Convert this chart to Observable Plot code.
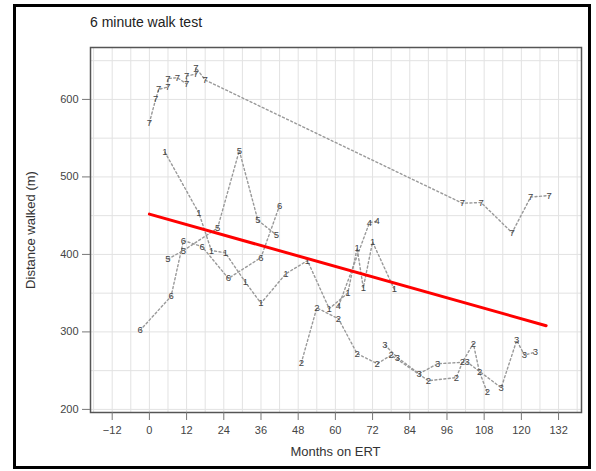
<!DOCTYPE html>
<html>
<head>
<meta charset="utf-8">
<script src="https://cdn.jsdelivr.net/npm/d3@7"></script>
<script src="https://cdn.jsdelivr.net/npm/@observablehq/plot@0.6"></script>
<style>
  body { margin: 0; background: #fff; }
  #wrap { position: relative; width: 596px; height: 471px; font-family: "Liberation Sans", Arial, sans-serif; overflow: hidden; }
  #chart { position: absolute; left: 0; top: 0; }
  #border { position: absolute; left: 13px; top: 4px; width: 572px; height: 459px; border: 3px solid #000; pointer-events: none; }
  #title { position: absolute; left: 90px; top: 14px; font-size: 14px; color: #222; }
  #xlabel { position: absolute; left: 90px; width: 491px; top: 444px; text-align: center; font-size: 13px; color: #333; }
  #ylabel { position: absolute; left: 30px; top: 230px; transform: translate(-50%, -50%) rotate(-90deg); white-space: nowrap; font-size: 13px; color: #333; }
</style>
</head>
<body>
<div id="wrap">
  <div id="chart"></div>
  <div id="border"></div>
  <div id="title">6 minute walk test</div>
  <div id="xlabel">Months on ERT</div>
  <div id="ylabel">Distance walked (m)</div>
</div>
<script>
// Patient id for each observation
const patientId = [
  1,1,1,1,1,1,1,1,1,1,1,1,1,1,
  2,2,2,2,2,2,2,2,2,2,2,2,
  3,3,3,3,3,3,3,3,3,
  4,4,4,
  5,5,5,5,5,5,
  6,6,6,6,6,6,6,
  7,7,7,7,7,7,7,7,7,7,7,7,7,7,7,7
];
// Months on ERT for each observation
const monthOnErt = [
  5,16,20,24.5,31,36,44,51,58,64,67,69,72,79,
  49,54,61,67,73.5,78,90,99,101,104.5,106.5,109,
  76,80,87,93,102.5,113.5,118.5,121,124.5,
  61,71,73.5,
  6,11,22,29,35,41,
  -3,7,11,17,25.5,36,42,
  0,2,3,6,6,9,12,12,15,15,18,101,107,117,123,129
];
// Distance walked (m) for each observation
const distanceWalked = [
  532,453,405,402,364,337,375,392,330,350,408,357,416,355,
  260,331,317,272,259,270,237,241,261,285,248,222,
  283,267,246,259,261,228,289,270,274,
  333,441,443,
  394,405,434,534,444,425,
  302,346,418,410,369,396,463,
  570,600,613,616,627,628,620,630,633,641,625,466,467,428,474,476
];
// Linear trend line end points
const fitMonth = [0, 128];
const fitDistance = [452, 308];
// Tick labels
const xTicks = [-12, 0, 12, 24, 36, 48, 60, 72, 84, 96, 108, 120, 132];
const yTicks = [200, 300, 400, 500, 600];
const xGrid = d3.range(-18, 140, 6);
const yGrid = d3.range(200, 667, 50);

const obs = patientId.map((p, i) => ({patient: p, month: monthOnErt[i], dist: distanceWalked[i]}));
const fit = fitMonth.map((m, i) => ({month: m, dist: fitDistance[i]}));

const chart = Plot.plot({
  width: 596,
  height: 471,
  marginLeft: 90,
  marginRight: 15,
  marginTop: 47,
  marginBottom: 59,
  style: {fontFamily: "'Liberation Sans', Arial, sans-serif", fontSize: "11px", color: "#444", background: "#fff"},
  x: {domain: [-19, 139.4]},
  y: {domain: [196, 667]},
  marks: [
    Plot.ruleX(xGrid, {stroke: "#e2e2e2", strokeWidth: 1}),
    Plot.ruleY(yGrid, {stroke: "#e2e2e2", strokeWidth: 1}),
    Plot.frame({stroke: "#555", strokeWidth: 1.5}),
    Plot.axisX({ticks: xTicks, tickSize: 8, tickPadding: 6, label: null, stroke: "#777", fontSize: 11, fill: "#444"}),
    Plot.axisY({ticks: yTicks, tickSize: 8, tickPadding: 4, label: null, stroke: "#777", fontSize: 11, fill: "#444"}),
    Plot.line(obs, {x: "month", y: "dist", z: "patient", stroke: "#999", strokeWidth: 1.4, strokeDasharray: "2,2.5"}),
    Plot.text(obs, {x: "month", y: "dist", text: d => String(d.patient), fontSize: 9.5, fill: "#444"}),
    Plot.line(fit, {x: "month", y: "dist", stroke: "#ff0000", strokeWidth: 3})
  ]
});
document.getElementById("chart").appendChild(chart);
</script>
</body>
</html>
